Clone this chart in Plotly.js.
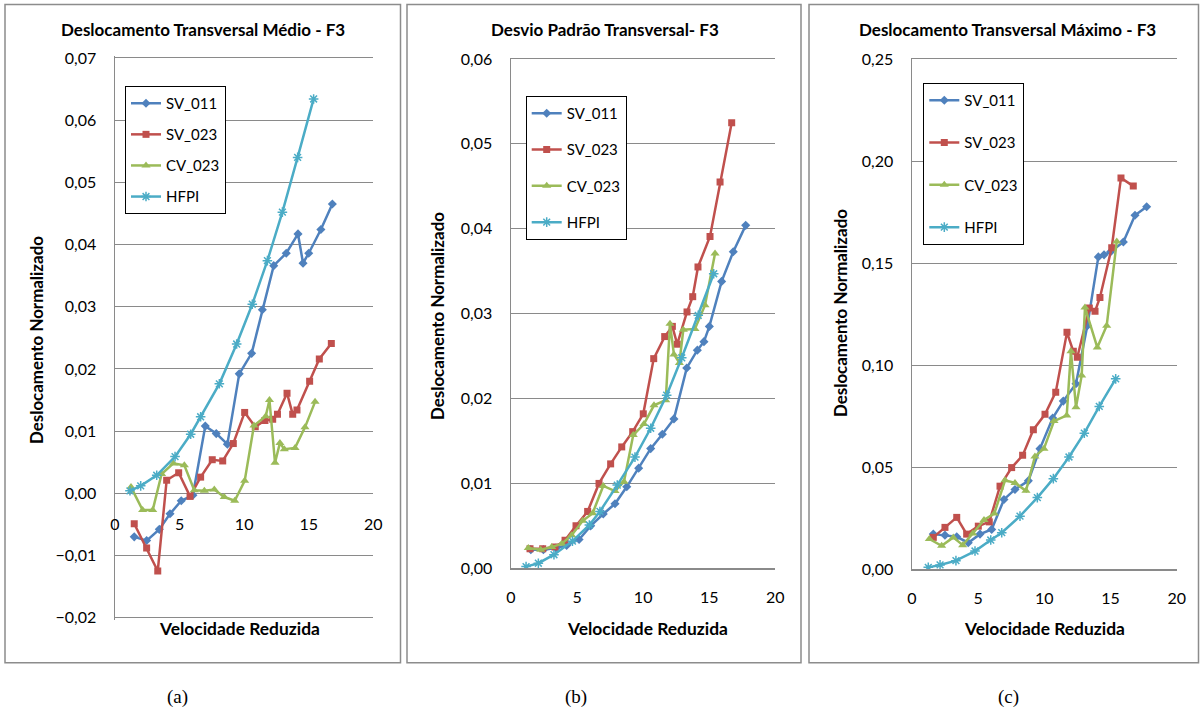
<!DOCTYPE html>
<html><head><meta charset="utf-8">
<script src="https://cdn.plot.ly/plotly-3.0.1.min.js"></script>
<style>html,body{margin:0;padding:0;background:#fff;} #chart{width:1204px;height:713px;}</style>
</head><body><div id="chart"></div>
<script>
// ---------- data ----------
const seriesNames = ['SV_011', 'SV_023', 'CV_023', 'HFPI'];

// (a) Deslocamento Transversal Médio - F3
const a_SV011_x = [1.49, 2.45, 3.43, 4.26, 5.13, 6.03, 6.99, 7.84, 8.70, 9.62, 10.58, 11.41, 12.29, 13.26, 14.17, 14.56, 15.00, 15.94, 16.83];
const a_SV011_y = [-0.0070, -0.0076, -0.0058, -0.0033, -0.0012, -0.0003, 0.0108, 0.0096, 0.0079, 0.0192, 0.0225, 0.0295, 0.0366, 0.0386, 0.0417, 0.0370, 0.0386, 0.0424, 0.0465];
const a_SV023_x = [1.49, 2.45, 3.31, 4.00, 4.93, 5.81, 6.63, 7.53, 8.34, 9.16, 10.04, 10.86, 11.61, 12.21, 12.58, 13.32, 13.76, 14.09, 15.07, 15.82, 16.75];
const a_SV023_y = [-0.0049, -0.0088, -0.0125, 0.0021, 0.0033, -0.0005, 0.0026, 0.0054, 0.0052, 0.0080, 0.0130, 0.0107, 0.0117, 0.0119, 0.0127, 0.0161, 0.0127, 0.0134, 0.0180, 0.0216, 0.0241];
const a_CV023_x = [1.24, 2.14, 2.92, 3.61, 4.52, 5.37, 6.14, 6.92, 7.69, 8.46, 9.27, 10.04, 10.76, 11.67, 11.96, 12.39, 12.77, 13.11, 13.94, 14.71, 15.49];
const a_CV023_y = [0.0010, -0.0027, -0.0027, 0.0031, 0.0048, 0.0045, 0.0005, 0.0004, 0.0006, -0.0006, -0.0012, 0.0020, 0.0109, 0.0124, 0.0150, 0.0049, 0.0081, 0.0071, 0.0073, 0.0106, 0.0147];
const a_HFPI_x = [1.16, 1.99, 3.23, 4.65, 5.86, 6.63, 8.08, 9.42, 10.63, 11.80, 12.96, 14.14, 15.38];
const a_HFPI_y = [0.0004, 0.0012, 0.0029, 0.0059, 0.0095, 0.0123, 0.0176, 0.0240, 0.0304, 0.0374, 0.0452, 0.0540, 0.0634];

// (b) Desvio Padrão Transversal- F3
const b_SV011_x = [1.50, 2.45, 3.40, 4.21, 5.15, 6.03, 6.98, 7.87, 8.76, 9.66, 10.57, 11.45, 12.33, 13.30, 14.10, 14.60, 15.01, 15.94, 16.82, 17.76];
const b_SV011_y = [0.0022, 0.0022, 0.0024, 0.0027, 0.0034, 0.0050, 0.0064, 0.0076, 0.0096, 0.0118, 0.0141, 0.0158, 0.0176, 0.0236, 0.0257, 0.0267, 0.0285, 0.0338, 0.0373, 0.0404];
const b_SV023_x = [1.44, 2.40, 3.33, 4.09, 4.92, 5.80, 6.66, 7.54, 8.38, 9.21, 10.01, 10.80, 11.63, 12.21, 12.58, 13.32, 13.75, 14.15, 15.06, 15.82, 16.70];
const b_SV023_y = [0.0023, 0.0023, 0.0025, 0.0033, 0.0050, 0.0067, 0.0100, 0.0123, 0.0143, 0.0161, 0.0182, 0.0247, 0.0273, 0.0285, 0.0264, 0.0302, 0.0320, 0.0355, 0.0391, 0.0455, 0.0525];
const b_CV023_x = [1.31, 2.25, 3.08, 3.84, 4.59, 5.43, 6.18, 6.98, 7.87, 8.55, 9.25, 10.06, 10.82, 11.71, 12.03, 12.33, 12.74, 13.04, 13.92, 14.68, 15.44];
const b_CV023_y = [0.0024, 0.0022, 0.0025, 0.0029, 0.0039, 0.0056, 0.0065, 0.0097, 0.0091, 0.0102, 0.0157, 0.0170, 0.0192, 0.0198, 0.0288, 0.0252, 0.0242, 0.0281, 0.0282, 0.0310, 0.0371];
const b_HFPI_x = [1.14, 2.07, 3.25, 4.65, 5.93, 6.73, 8.04, 9.38, 10.57, 11.78, 12.92, 14.17, 15.34];
const b_HFPI_y = [0.0002, 0.0006, 0.0016, 0.0032, 0.0051, 0.0067, 0.0098, 0.0131, 0.0165, 0.0204, 0.0248, 0.0298, 0.0347];

// (c) Deslocamento Transversal Máximo - F3
const c_SV011_x = [1.61, 2.49, 3.38, 4.25, 5.14, 6.02, 6.95, 7.78, 8.79, 9.67, 10.63, 11.43, 12.39, 13.25, 14.08, 14.51, 15.01, 15.97, 16.85, 17.73];
const c_SV011_y = [0.0171, 0.0166, 0.0158, 0.0129, 0.0171, 0.0194, 0.0341, 0.0390, 0.0432, 0.0590, 0.0740, 0.0823, 0.0908, 0.1193, 0.1530, 0.1540, 0.1555, 0.1603, 0.1734, 0.1776];
const c_SV023_x = [1.61, 2.49, 3.38, 4.13, 5.01, 5.84, 6.65, 7.53, 8.36, 9.17, 10.05, 10.86, 11.71, 12.19, 12.49, 13.40, 13.83, 14.20, 15.09, 15.79, 16.72];
const c_SV023_y = [0.0155, 0.0204, 0.0253, 0.0171, 0.0210, 0.0231, 0.0406, 0.0497, 0.0557, 0.0683, 0.0758, 0.0867, 0.1160, 0.1067, 0.1038, 0.1279, 0.1263, 0.1331, 0.1575, 0.1917, 0.1877];
const c_CV023_x = [1.31, 2.24, 3.12, 3.83, 4.59, 5.44, 6.22, 7.03, 7.78, 8.61, 9.29, 9.97, 10.73, 11.69, 12.01, 12.39, 12.82, 13.07, 14.00, 14.71, 15.47];
const c_CV023_y = [0.0147, 0.0114, 0.0155, 0.0117, 0.0174, 0.0240, 0.0272, 0.0435, 0.0422, 0.0383, 0.0552, 0.0590, 0.0725, 0.0753, 0.1067, 0.0793, 0.0948, 0.1282, 0.1086, 0.1193, 0.1605];
const c_HFPI_x = [1.23, 2.12, 3.32, 4.76, 5.95, 6.78, 8.16, 9.47, 10.68, 11.86, 13.02, 14.15, 15.39];
const c_HFPI_y = [0.0008, 0.0020, 0.0041, 0.0088, 0.0142, 0.0178, 0.0259, 0.0350, 0.0443, 0.0549, 0.0666, 0.0797, 0.0932];

const panelTitles = ['Deslocamento Transversal Médio - F3', 'Desvio Padrão Transversal- F3', 'Deslocamento Transversal Máximo - F3'];
const xTitle = 'Velocidade Reduzida';
const yTitle = 'Deslocamento Normalizado';
const panelLabels = ['(a)', '(b)', '(c)'];

// ---------- styling ----------
const W = 1204, H = 713;
const PX = v => v / W;
const PY = v => 1 - v / H;
const FONT = 'Lato, "Open Sans", sans-serif';
const colors = ['#4F81BD', '#C0504D', '#9BBB59', '#4BACC6'];
const symbols = ['diamond', 'square', 'triangle-up', 'asterisk-open'];
const msize = [7, 7, 8, 8];
const GRID = '#8a8a8a';

const panels = [
  {xs: [a_SV011_x, a_SV023_x, a_CV023_x, a_HFPI_x], ys: [a_SV011_y, a_SV023_y, a_CV023_y, a_HFPI_y], xa: 'x', ya: 'y', lg: 'legend'},
  {xs: [b_SV011_x, b_SV023_x, b_CV023_x, b_HFPI_x], ys: [b_SV011_y, b_SV023_y, b_CV023_y, b_HFPI_y], xa: 'x2', ya: 'y2', lg: 'legend2'},
  {xs: [c_SV011_x, c_SV023_x, c_CV023_x, c_HFPI_x], ys: [c_SV011_y, c_SV023_y, c_CV023_y, c_HFPI_y], xa: 'x3', ya: 'y3', lg: 'legend3'}
];

const traces = [];
panels.forEach((p, pi) => {
  seriesNames.forEach((name, si) => {
    const open = symbols[si].indexOf('open') >= 0;
    traces.push({
      type: 'scatter', mode: 'lines+markers', name: name,
      x: p.xs[si], y: p.ys[si], xaxis: p.xa, yaxis: p.ya, legend: p.lg,
      legendgroup: 'p' + pi + 's' + si,
      line: {color: colors[si], width: 2.5},
      marker: {symbol: symbols[si], size: msize[si], color: colors[si],
               line: {color: colors[si], width: open ? 1.5 : 0}}
    });
  });
});

const tickFont = {family: FONT, size: 16, color: '#000'};
const baseX = {range: [0, 20], dtick: 5, tick0: 0, showgrid: false, zeroline: false, ticks: '',
  tickfont: tickFont, ticklabelstandoff: 14, automargin: false, fixedrange: true};
const baseY = {showgrid: true, gridcolor: GRID, gridwidth: 1, zeroline: false, showline: true,
  linecolor: GRID, linewidth: 1.5, ticks: '', tickfont: tickFont, ticklabelstandoff: 14,
  tickformat: '.2f', automargin: false, fixedrange: true};

const legendBase = {xanchor: 'left', yanchor: 'top', bgcolor: '#fff', bordercolor: '#000', borderwidth: 1,
  font: {family: FONT, size: 15, color: '#000'}, itemwidth: 30, traceorder: 'grouped'};

// panel (a): y from -0.02 to 0.07, x axis crosses at 0
const aPad = 0.0003;
const aTopPx = 57.9, aBotPx = 617.7, aPxPerUnit = (aBotPx - aTopPx) / 0.09;

const layout = {
  width: W, height: H,
  margin: {l: 0, r: 0, t: 0, b: 0},
  paper_bgcolor: '#fff', plot_bgcolor: 'rgba(0,0,0,0)',
  separators: ', ',
  showlegend: true,
  font: {family: FONT, color: '#000'},
  xaxis: Object.assign({}, baseX, {domain: [PX(115), PX(373.3)], anchor: 'free', position: PY(493.3),
    showline: false, ticklabelstandoff: 20}),
  yaxis: Object.assign({}, baseY, {domain: [PY(aBotPx + aPad * aPxPerUnit), PY(aTopPx - aPad * aPxPerUnit)],
    range: [-0.02 - aPad, 0.07 + aPad], dtick: 0.01, tick0: 0, anchor: 'x'}),
  xaxis2: Object.assign({}, baseX, {domain: [PX(511), PX(775.3)], anchor: 'y2', showline: true, mirror: true,
    linecolor: GRID, linewidth: 1.5}),
  yaxis2: Object.assign({}, baseY, {domain: [PY(568.3), PY(59)], range: [0, 0.06], dtick: 0.01, tick0: 0, anchor: 'x2'}),
  xaxis3: Object.assign({}, baseX, {domain: [PX(912), PX(1176.7)], anchor: 'y3', showline: true, mirror: true,
    linecolor: GRID, linewidth: 1.5}),
  yaxis3: Object.assign({}, baseY, {domain: [PY(569), PY(59)], range: [0, 0.25], dtick: 0.05, tick0: 0, anchor: 'x3'}),
  legend: Object.assign({}, legendBase, {x: PX(125), y: PY(86), tracegroupgap: 8.6}),
  legend2: Object.assign({}, legendBase, {x: PX(525.7), y: PY(96), tracegroupgap: 13.8}),
  legend3: Object.assign({}, legendBase, {x: PX(923.3), y: PY(83), tracegroupgap: 19.8}),
  shapes: [
    [5, 400.5], [407, 801], [809, 1198.5]
  ].map(b => ({type: 'rect', xref: 'paper', yref: 'paper', x0: PX(b[0]), x1: PX(b[1]), y0: PY(662.7), y1: PY(4.5),
    line: {color: '#8c8c8c', width: 1.5}, fillcolor: 'rgba(0,0,0,0)', layer: 'below'})),
  annotations: []
};

const titlePos = [[202.5, 29], [605, 29], [1007.5, 29]];
const xTitlePos = [[239, 628], [647, 628], [1044.5, 628]];
const yTitlePos = [[36, 340], [437, 316], [840, 313]];
const labelPos = [[177, 697], [576, 697], [1008, 697]];
for (let i = 0; i < 3; i++) {
  layout.annotations.push({text: '<b>' + panelTitles[i] + '</b>', xref: 'paper', yref: 'paper',
    x: PX(titlePos[i][0]), y: PY(titlePos[i][1]), xanchor: 'center', yanchor: 'middle', showarrow: false,
    font: {family: FONT, size: 17, color: '#000'}});
  layout.annotations.push({text: '<b>' + xTitle + '</b>', xref: 'paper', yref: 'paper',
    x: PX(xTitlePos[i][0]), y: PY(xTitlePos[i][1]), xanchor: 'center', yanchor: 'middle', showarrow: false,
    font: {family: FONT, size: 17.4, color: '#000'}});
  layout.annotations.push({text: '<b>' + yTitle + '</b>', xref: 'paper', yref: 'paper', textangle: -90,
    x: PX(yTitlePos[i][0]), y: PY(yTitlePos[i][1]), xanchor: 'center', yanchor: 'middle', showarrow: false,
    font: {family: FONT, size: 16.9, color: '#000'}});
  layout.annotations.push({text: panelLabels[i], xref: 'paper', yref: 'paper',
    x: PX(labelPos[i][0]), y: PY(labelPos[i][1]), xanchor: 'center', yanchor: 'middle', showarrow: false,
    font: {family: '"Liberation Serif", "Times New Roman", serif', size: 19, color: '#000'}});
}

Plotly.newPlot('chart', traces, layout, {displayModeBar: false, staticPlot: true});
</script>
</body></html>
